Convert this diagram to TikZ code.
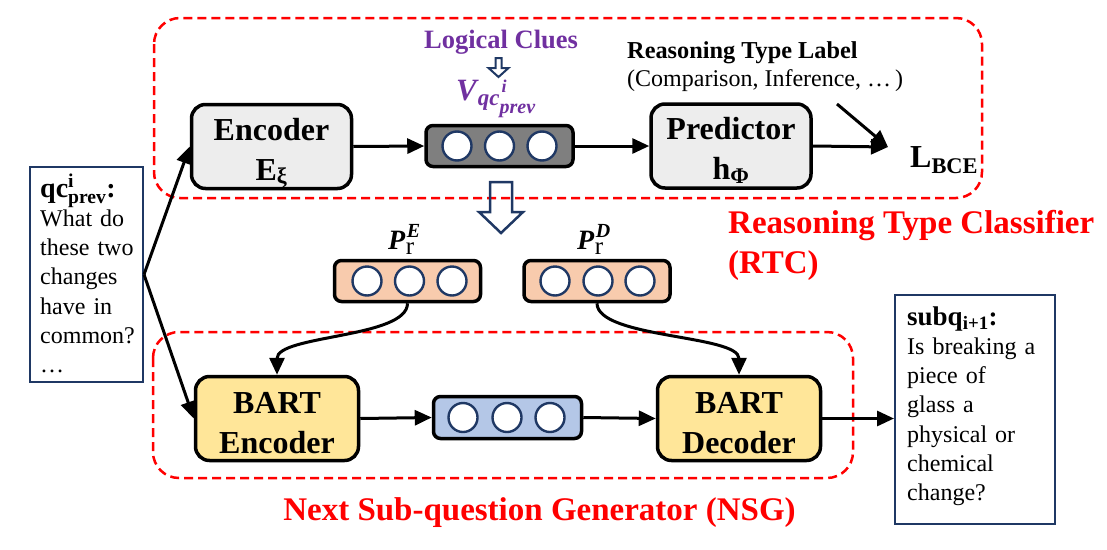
\documentclass[tikz,border=0pt]{standalone}
\usepackage{fontspec}
\setmainfont{Liberation Serif}
\usepackage{amsmath}
\usetikzlibrary{arrows.meta}
\definecolor{navy}{HTML}{1F3864}
\definecolor{rtcred}{HTML}{FF0000}
\definecolor{purp}{HTML}{7030A0}
\definecolor{lgray}{HTML}{EDEDED}
\definecolor{dgray}{HTML}{7F7F7F}
\definecolor{bartyel}{HTML}{FFE699}
\definecolor{vblue}{HTML}{B4C7E7}
\definecolor{vorange}{HTML}{F8CBAD}
\newcommand{\plab}[1]{P\kern1.5pt\rlap{\raisebox{12pt}{\fontsize{20}{20}\selectfont #1}}\kern-1pt\raisebox{-5pt}{\fontsize{25}{25}\selectfont\mdseries\upshape r}}
\newcommand{\tstrut}{\rule{0pt}{31pt}}
\tikzset{
  blk/.style={draw=black, line width=3.5pt, rounded corners=14pt, align=center,
    inner sep=0pt, minimum width=160pt, minimum height=84pt,
    font=\fontsize{32}{40}\selectfont\bfseries},
  vecbox/.style={draw=black, line width=3.5pt, rounded corners=7pt,
    minimum width=147pt, minimum height=41pt, inner sep=0pt},
  dotc/.style={circle, draw=navy, line width=2.4pt, fill=white,
    minimum size=29pt, inner sep=0pt},
  conn/.style={line width=3pt, -{Triangle[length=17pt,width=15pt]}},
  region/.style={draw=rtcred, line width=2.5pt, dash pattern=on 9pt off 5pt,
    rounded corners=26pt},
  txtbox/.style={draw=navy, line width=2pt, inner sep=0pt},
  bodytext/.style={anchor=base west, inner sep=0pt, text width=140pt, align=left,
    font=\fontsize{24}{29.3}\selectfont},
  hollow/.style={draw=navy, line width=2.5pt, line join=miter},
  redlabel/.style={text=rtcred, font=\fontsize{33}{40}\selectfont\bfseries, inner sep=0pt}
}
\begin{document}
\begin{tikzpicture}[x=1pt,y=-1pt]
\useasboundingbox (0,0) rectangle (1107,549);

% dashed regions
\draw[region] (154,18) rectangle (982,198);
\draw[region] (153,332) rectangle (853,478);

% hollow arrows
\draw[hollow] (490,182) -- (512,182) -- (512,212) -- (523,212) -- (501,233)
  -- (479,212) -- (490,212) -- cycle;
\draw[hollow, line width=2pt] (495.5,58) -- (501.5,58) -- (501.5,68) -- (508.5,68)
  -- (498.5,77) -- (488.5,68) -- (495.5,68) -- cycle;

% text boxes
\node[txtbox, minimum width=113pt, minimum height=215pt] (qc) at (86.5,274.5) {};
\node[bodytext] (qctext) at (40,197)
  {{\fontsize{28}{29.3}\selectfont\bfseries qc$^{\text{i}}_{\text{prev}}$:}\\
   What do\\these two\\changes\\have in\\common?\\\dots};
\node[txtbox, minimum width=160pt, minimum height=229pt] (subq) at (975,409.5) {};
\node[bodytext] (subqtext) at (907,325)
  {{\fontsize{27}{29}\selectfont\bfseries subq$_{\text{i+1}}$:}\\
   Is breaking a\\piece of\\glass a\\physical or\\chemical\\change?};

% RTC row
\node[blk, fill=lgray] (enc) at (271.5,146.5) {\tstrut Encoder\\E$_{\smash{\text{ξ}}}$};
\node[vecbox, fill=dgray] (gvec) at (499.5,146) {};
\foreach \x [count=\i] in {457,499.5,542}
  \node[dotc] (g\i) at (\x,146) {};
\node[blk, fill=lgray] (pred) at (731,146) {\tstrut Predictor\\h$_{\smash{\text{Φ}}}$};
\node[anchor=base west, inner sep=0pt, font=\fontsize{32}{34}\selectfont\bfseries]
  (lbce) at (910,167) {L$_{\text{BCE}}$};
\coordinate (lt) at (888,147);
\coordinate (ls) at (837,104);

\node[anchor=base, inner sep=0pt, text=purp, font=\fontsize{26.5}{28}\selectfont\bfseries]
  (clues) at (501,48) {Logical Clues};
\node[anchor=base west, inner sep=0pt, text=purp, font=\fontsize{31}{32}\selectfont\bfseries\itshape]
  (vlab) at (456,100) {V\kern1pt\raisebox{-5pt}{\fontsize{23}{23}\selectfont qc}\rlap{\kern2pt\raisebox{8pt}{\fontsize{18}{18}\selectfont i}}\raisebox{-13pt}{\fontsize{20}{20}\selectfont prev}};

\node[anchor=base west, inner sep=0pt, font=\fontsize{24.3}{26}\selectfont\bfseries]
  (rtl) at (627,58) {Reasoning Type Label};
\node[anchor=base west, inner sep=0pt, font=\fontsize{24}{26}\selectfont]
  (rtl2) at (627,86) {(Comparison, Inference, \dots\,)};

\node[redlabel, anchor=base west] (rtcname) at (728,233) {Reasoning Type Classifier};
\node[redlabel, anchor=base west] (rtcabbr) at (728,273) {(RTC)};

% prompt vectors
\node[anchor=base west, inner sep=0pt, font=\fontsize{28}{30}\selectfont\bfseries\itshape]
  (pelab) at (388,249) {\plab{E}};
\node[anchor=base west, inner sep=0pt, font=\fontsize{28}{30}\selectfont\bfseries\itshape]
  (pdlab) at (577,249) {\plab{D}};
\node[vecbox, fill=vorange, minimum width=146pt] (pe) at (407.5,281) {};
\foreach \x [count=\i] in {367,409.5,452}
  \node[dotc] (pe\i) at (\x,281) {};
\node[vecbox, fill=vorange, minimum width=146pt] (pd) at (597,281) {};
\foreach \x [count=\i] in {555,598,640}
  \node[dotc] (pd\i) at (\x,281) {};

% NSG row
\node[blk, fill=bartyel, minimum width=163pt] (benc) at (277,418.5) {\tstrut BART\\Encoder};
\node[vecbox, fill=vblue, minimum width=148pt, minimum height=42pt] (bvec) at (507.5,417.5) {};
\foreach \x [count=\i] in {463,507,550}
  \node[dotc] (b\i) at (\x,417.5) {};
\node[blk, fill=bartyel, minimum width=163pt] (bdec) at (739,418.5) {\tstrut BART\\Decoder};

\node[redlabel, anchor=base] (nsgname) at (539.5,520) {Next Sub-question Generator (NSG)};

% connectors
\draw[conn] (qc.east) -- (enc.west);
\draw[conn] (qc.east) -- (benc.west);
\draw[conn] (enc.east) -- (gvec.west);
\draw[conn] (gvec.east) -- (pred.west);
\draw[conn] (pred.east) -- (lt);
\draw[conn] (ls) -- (lt);
\draw[conn] (pe.south) .. controls +(0,35) and +(0,-40) .. (benc.north);
\draw[conn] (pd.south) .. controls +(0,35) and +(0,-40) .. (bdec.north);
\draw[conn] (benc.east) -- (bvec.west);
\draw[conn] (bvec.east) -- (bdec.west);
\draw[conn] (bdec.east) -- (bdec.east -| subq.west);
\end{tikzpicture}
\end{document}
